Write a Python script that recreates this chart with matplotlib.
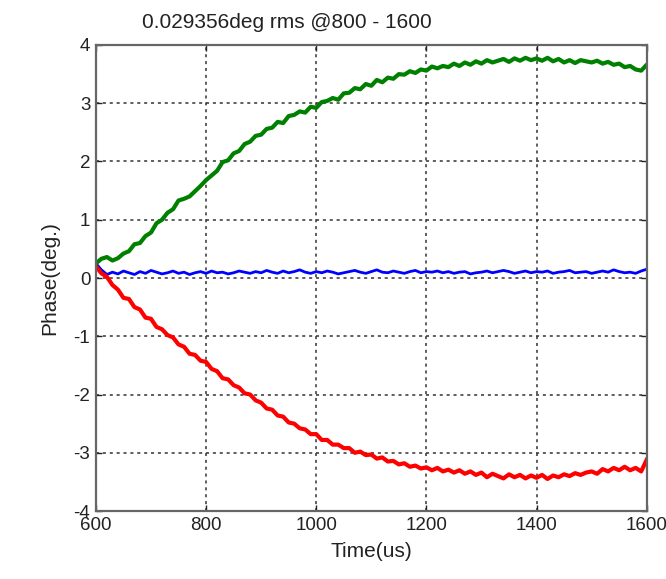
import numpy as np
import matplotlib
matplotlib.use("Agg")
from matplotlib import pyplot as plt

# time axis, 10 us steps
time_us = np.arange(600, 1601, 10)

phase_blue = [
    0.25, 0.14, 0.06, 0.10, 0.07, 0.12, 0.09, 0.06, 0.11, 0.08,
    0.13, 0.10, 0.07, 0.09, 0.12, 0.08, 0.10, 0.06, 0.09, 0.11,
    0.08, 0.12, 0.09, 0.10, 0.07, 0.09, 0.12, 0.10, 0.08, 0.11,
    0.09, 0.13, 0.10, 0.08, 0.12, 0.09, 0.11, 0.14, 0.10, 0.08,
    0.11, 0.09, 0.12, 0.10, 0.07, 0.09, 0.11, 0.13, 0.10, 0.08,
    0.11, 0.14, 0.10, 0.09, 0.12, 0.10, 0.08, 0.11, 0.13, 0.09,
    0.11, 0.10, 0.12, 0.09, 0.11, 0.08, 0.10, 0.11, 0.07, 0.09,
    0.10, 0.12, 0.09, 0.11, 0.13, 0.11, 0.08, 0.10, 0.12, 0.09,
    0.11, 0.10, 0.12, 0.08, 0.10, 0.11, 0.13, 0.09, 0.10, 0.11,
    0.08, 0.10, 0.12, 0.10, 0.14, 0.11, 0.09, 0.10, 0.08, 0.12,
    0.15]

phase_green = [
    0.25, 0.33, 0.36, 0.30, 0.34, 0.42, 0.46, 0.58, 0.60, 0.72,
    0.78, 0.94, 1.00, 1.12, 1.18, 1.33, 1.36, 1.40, 1.49, 1.58,
    1.68, 1.76, 1.84, 1.99, 2.02, 2.14, 2.18, 2.30, 2.34, 2.44,
    2.46, 2.56, 2.58, 2.68, 2.66, 2.78, 2.80, 2.86, 2.84, 2.94,
    2.92, 3.02, 3.04, 3.09, 3.06, 3.17, 3.18, 3.26, 3.24, 3.33,
    3.30, 3.40, 3.36, 3.44, 3.42, 3.50, 3.49, 3.55, 3.52, 3.58,
    3.56, 3.63, 3.60, 3.64, 3.62, 3.68, 3.64, 3.70, 3.66, 3.72,
    3.68, 3.74, 3.70, 3.73, 3.76, 3.71, 3.77, 3.73, 3.78, 3.74,
    3.77, 3.73, 3.78, 3.72, 3.76, 3.70, 3.74, 3.69, 3.74, 3.72,
    3.70, 3.73, 3.68, 3.71, 3.66, 3.68, 3.62, 3.64, 3.58, 3.56,
    3.66]

phase_red = [
    0.20, 0.08, 0.02, -0.12, -0.20, -0.34, -0.36, -0.50, -0.54, -0.68,
    -0.70, -0.84, -0.88, -0.98, -1.02, -1.14, -1.18, -1.30, -1.32, -1.42,
    -1.44, -1.56, -1.60, -1.72, -1.74, -1.84, -1.88, -1.98, -2.00, -2.10,
    -2.14, -2.24, -2.26, -2.36, -2.38, -2.48, -2.50, -2.58, -2.60, -2.68,
    -2.68, -2.78, -2.78, -2.86, -2.86, -2.92, -2.92, -3.00, -2.98, -3.04,
    -3.03, -3.10, -3.08, -3.15, -3.14, -3.20, -3.18, -3.24, -3.22, -3.27,
    -3.25, -3.30, -3.26, -3.32, -3.29, -3.34, -3.30, -3.36, -3.32, -3.38,
    -3.34, -3.42, -3.36, -3.40, -3.44, -3.37, -3.42, -3.38, -3.44, -3.39,
    -3.43, -3.38, -3.45, -3.39, -3.42, -3.37, -3.40, -3.35, -3.38, -3.34,
    -3.32, -3.36, -3.28, -3.32, -3.26, -3.30, -3.24, -3.30, -3.26, -3.32,
    -3.12]

plt.rcParams['font.family'] = ['Liberation Sans', 'DejaVu Sans']
plt.rcParams['axes.unicode_minus'] = False

fig = plt.figure(figsize=(6.66, 5.79), dpi=100)
ax = fig.add_axes([0.144, 0.1174, 0.827, 0.8049])

ax.plot(time_us, phase_blue, color='#0000ff', lw=2.0)
ax.plot(time_us, phase_green, color='#008000', lw=3.0)
ax.plot(time_us, phase_red, color='#ff0000', lw=3.0)

ax.set_xlim(600, 1600)
ax.set_ylim(-4, 4)
ax.set_xticks(np.arange(600, 1601, 200))
ax.set_yticks(np.arange(-4, 5, 1))
ax.tick_params(direction='in', length=4, width=1, top=True, right=True,
               labelsize=13.5, colors='#222222', pad=4)
for s in ax.spines.values():
    s.set_linewidth(1.6)
    s.set_color('#666666')

ax.grid(True, color='#333333', linestyle=(0, (2, 2.5)), linewidth=1.1)

ax.set_xlabel("Time(us)", fontsize=15, color='#222222', labelpad=6)
ax.set_ylabel("Phase(deg.)", fontsize=15, color='#222222', labelpad=10)
fig.text(0.431, 0.962, "0.029356deg rms @800 - 1600", fontsize=15,
         color='#222222', ha='center', va='center')

fig.savefig("out.png", dpi=100)
